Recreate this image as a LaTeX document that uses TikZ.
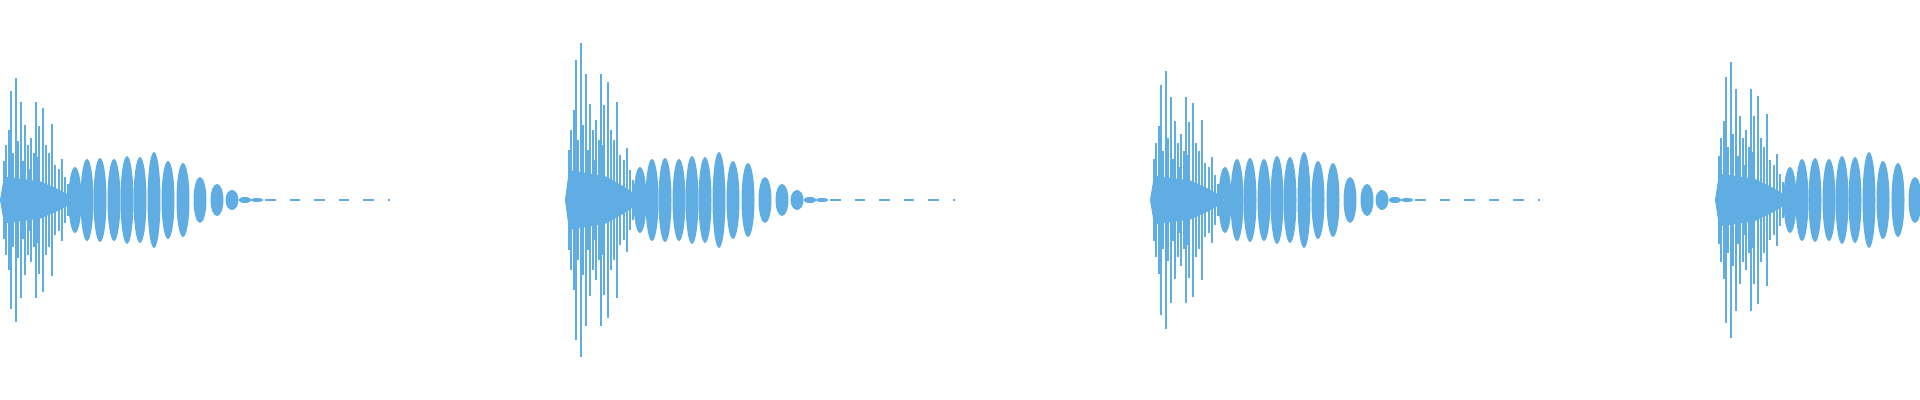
\documentclass[tikz,border=0pt]{standalone}
\definecolor{wave}{HTML}{5FADE3}
\tikzset{
  spike/.style={draw=wave, line width=0.6pt},
  lobe/.style={fill=wave},
  tail/.style={draw=wave, line width=0.7pt, dash pattern=on 3pt off 4pt}
}
\begin{document}
\begin{tikzpicture}[x=0.01cm,y=0.01cm]
\useasboundingbox (0,-200) rectangle (1920,200);
% one burst per beat
\foreach \bx/\s in {0/0.78,565/1,1150/0.82,1715/0.88}{
  \begin{scope}[shift={(\bx,0)}]
    % attack
    \fill[wave] (0,0) -- (4,30*\s) -- (40,24*\s) -- (58,14*\s) -- (70,6*\s) -- (70,-6*\s) -- (58,-14*\s) -- (40,-24*\s) -- (4,-30*\s) -- cycle;
    \foreach \sx/\h in {4/50,6/70,9/90,11/140,13/60,16/157,18/75,21/126,23/50,25/96,28/70,30/40,31/80,34/60,36/126,38/55,39/95,43/118,46/70,49/60,52/98,55/45,59/40,62/52,65/30,68/20}
      \draw[spike] (\sx,-\h*\s) -- (\sx,\h*\s);
    % decaying tone
    \foreach \cx/\h in {75/33,87/41,100/42,114/41,127/44,140/43,154/48,168/39,183/37,200/23,217/16,232/10,245/3,257/2}
      \fill[lobe] (\cx,0) ellipse (6.5 and \h);
    \draw[tail] (265,0) -- (390,0);
  \end{scope}
}
\end{tikzpicture}
\end{document}
